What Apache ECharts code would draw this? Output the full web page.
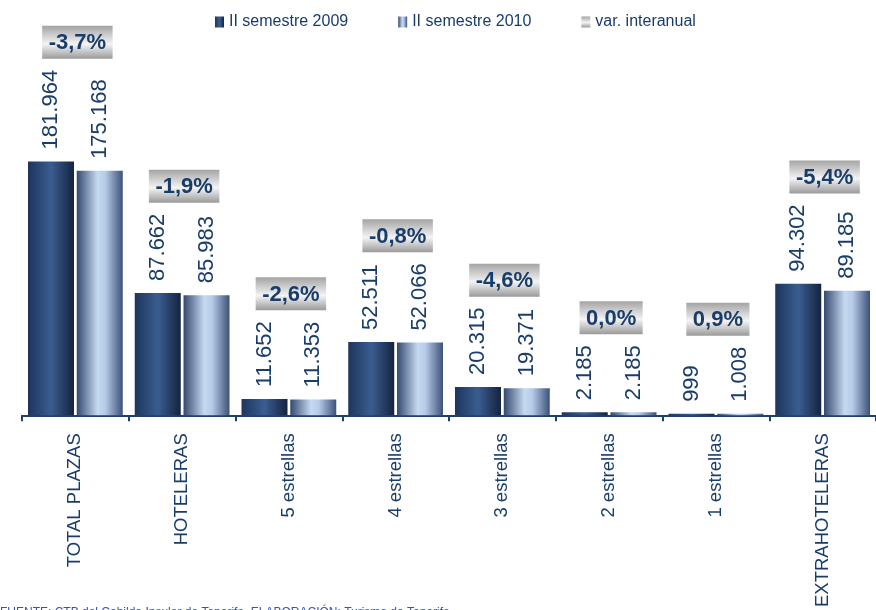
<!DOCTYPE html>
<html>
<head>
<meta charset="utf-8">
<script src="https://cdn.jsdelivr.net/npm/echarts@6/dist/echarts.min.js"></script>
<style>
html,body{margin:0;padding:0;background:#fff;}
#c{width:876px;height:610px;}
</style>
</head>
<body>
<div id="c"></div>
<script>
const categories = ['TOTAL PLAZAS', 'HOTELERAS', '5 estrellas', '4 estrellas', '3 estrellas', '2 estrellas', '1 estrellas', 'EXTRAHOTELERAS'];
const sem2009 = [181964, 87662, 11652, 52511, 20315, 2185, 999, 94302];
const sem2010 = [175168, 85983, 11353, 52066, 19371, 2185, 1008, 89185];
const varInteranual = [-3.7, -1.9, -2.6, -0.8, -4.6, 0.0, 0.9, -5.4];
const seriesNames = ['II semestre 2009', 'II semestre 2010', 'var. interanual'];
const sourceText = 'FUENTE: CTB del Cabildo Insular de Tenerife. ELABORACIÓN: Turismo de Tenerife';

const FONT = "'Liberation Sans', Arial, sans-serif";
const TXT = '#183d6b';

function fmtNum(v) {
  return String(Math.round(v)).replace(/\B(?=(\d{3})+(?!\d))/g, '.');
}
function fmtPct(v) {
  return v.toFixed(1).replace('.', ',') + '%';
}
const mctx = document.createElement('canvas').getContext('2d');
function measure(t, font) { mctx.font = font; return mctx.measureText(t).width; }

const g2009 = new echarts.graphic.LinearGradient(0, 0, 1, 0, [
  {offset: 0, color: '#1d355c'},
  {offset: 0.5, color: '#3a5d90'},
  {offset: 1, color: '#142340'}
]);
const g2010 = new echarts.graphic.LinearGradient(0, 0, 1, 0, [
  {offset: 0, color: '#33496f'},
  {offset: 0.45, color: '#c6d9f1'},
  {offset: 0.62, color: '#b6cbe7'},
  {offset: 1, color: '#3c5179'}
]);
const gBox = () => new echarts.graphic.LinearGradient(0, 0, 0, 1, [
  {offset: 0, color: '#a4a4a4'},
  {offset: 0.55, color: '#f4f4f4'},
  {offset: 1, color: '#9a9a9a'}
]);

const valueFont = '22px ' + FONT;
const pctFont = 'bold 22px ' + FONT;

const chart = echarts.init(document.getElementById('c'), null, {renderer: 'canvas'});
chart.setOption({
  animation: false,
  backgroundColor: '#fff',
  legend: {
    data: seriesNames.map(n => ({name: n, icon: 'rect'})),
    left: 210,
    top: 9,
    itemGap: 50,
    itemWidth: 9,
    itemHeight: 11,
    textStyle: {fontFamily: FONT, fontSize: 16, color: TXT}
  },
  grid: {left: 22, width: 857, top: 24.6, bottom: 193},
  xAxis: {
    type: 'category',
    data: categories,
    axisLine: {lineStyle: {color: '#1f3f6e', width: 2}},
    axisTick: {show: true, alignWithLabel: false, interval: 0, length: 6, lineStyle: {color: '#1f3f6e', width: 2}},
    axisLabel: {rotate: 90, margin: 18, fontFamily: FONT, fontSize: 18.5, color: TXT, interval: 0}
  },
  yAxis: {type: 'value', min: 0, max: 280000, show: false, splitLine: {show: false}},
  series: [
    {
      name: seriesNames[0], type: 'bar', data: sem2009, barWidth: 46, barGap: '6%',
      itemStyle: {color: g2009},
      label: {show: true, position: 'top', rotate: 90, align: 'left', verticalAlign: 'middle', distance: 12,
        fontFamily: FONT, fontSize: 22, color: TXT, formatter: p => fmtNum(p.value)}
    },
    {
      name: seriesNames[1], type: 'bar', data: sem2010, barWidth: 46, barGap: '6%',
      itemStyle: {color: g2010},
      label: {show: true, position: 'top', rotate: 90, align: 'left', verticalAlign: 'middle', distance: 12,
        fontFamily: FONT, fontSize: 22, color: TXT, formatter: p => fmtNum(p.value)}
    },
    {
      name: seriesNames[2], type: 'custom',
      itemStyle: {color: gBox()},
      data: varInteranual.map((v, i) => [i, v]),
      encode: {x: 0, y: 1},
      renderItem: function (params, api) {
        const i = api.value(0);
        const pct = api.value(1);
        const tops = [sem2009[i], sem2010[i]].map(v => api.coord([i, v])[1] - 12 - measure(fmtNum(v), valueFont));
        const minTop = Math.min.apply(null, tops);
        const txt = fmtPct(pct);
        const w = measure(txt, pctFont) + 13;
        const h = 33;
        const cx = api.coord([i, 0])[0] + 2;
        const bottom = minTop - 11;
        return {
          type: 'group',
          children: [
            {type: 'rect', shape: {x: cx - w / 2, y: bottom - h, width: w, height: h}, style: {fill: gBox()}},
            {type: 'text', style: {text: txt, x: cx, y: bottom - h / 2 + 1, align: 'center', verticalAlign: 'middle',
              fill: TXT, font: pctFont}}
          ]
        };
      }
    }
  ],
  graphic: [
    {type: 'text', left: 0, top: 607, style: {text: sourceText, fill: '#3d52a0', font: '12px ' + FONT}}
  ]
});
</script>
</body>
</html>
